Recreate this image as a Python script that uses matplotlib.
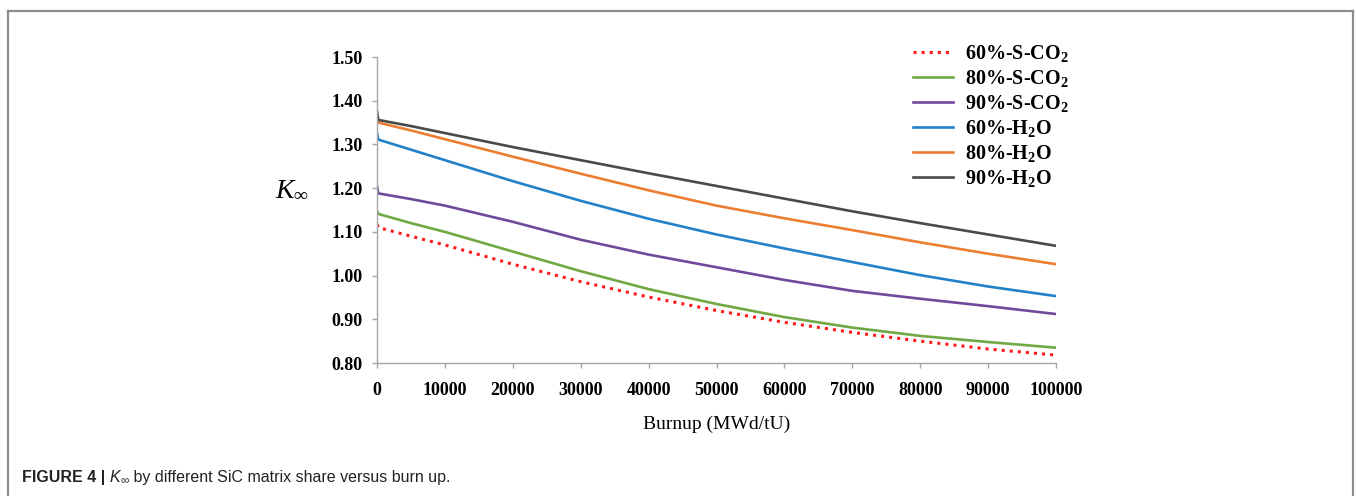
import numpy as np
import matplotlib.pyplot as plt
from matplotlib.lines import Line2D

plt.rcParams["mathtext.fontset"] = "custom"
plt.rcParams["mathtext.rm"] = "Liberation Serif:bold"
plt.rcParams["mathtext.it"] = "Liberation Serif:italic"
plt.rcParams["mathtext.bf"] = "Liberation Serif:bold"

# burnup points (MWd/tU)
burnup = [0, 200, 5000, 10000, 20000, 30000, 40000, 50000,
          60000, 70000, 80000, 90000, 100000]

k_60_sco2 = [1.117, 1.110, 1.090, 1.070, 1.026, 0.986, 0.951, 0.920,
             0.893, 0.870, 0.850, 0.832, 0.818]
k_80_sco2 = [1.148, 1.141, 1.120, 1.100, 1.055, 1.010, 0.969, 0.935,
             0.905, 0.881, 0.862, 0.848, 0.835]
k_90_sco2 = [1.205, 1.188, 1.175, 1.160, 1.123, 1.082, 1.048, 1.019,
             0.990, 0.965, 0.947, 0.930, 0.912]
k_60_h2o = [1.326, 1.311, 1.288, 1.264, 1.216, 1.171, 1.130, 1.094,
            1.062, 1.031, 1.001, 0.975, 0.953]
k_80_h2o = [1.356, 1.350, 1.332, 1.312, 1.272, 1.233, 1.195, 1.160,
            1.131, 1.104, 1.076, 1.050, 1.026]
k_90_h2o = [1.376, 1.356, 1.342, 1.326, 1.294, 1.264, 1.234, 1.205,
            1.176, 1.147, 1.120, 1.094, 1.068]

series = [
    ("60%-S-CO$_{2}$", k_60_sco2, "#ff1a1a", ":"),
    ("80%-S-CO$_{2}$", k_80_sco2, "#71a843", "-"),
    ("90%-S-CO$_{2}$", k_90_sco2, "#6f4a9a", "-"),
    ("60%-H$_{2}$O", k_60_h2o, "#2381c8", "-"),
    ("80%-H$_{2}$O", k_80_h2o, "#ed7d31", "-"),
    ("90%-H$_{2}$O", k_90_h2o, "#4a4a4a", "-"),
]

fig = plt.figure(figsize=(13.56, 4.96), dpi=100)
ax = fig.add_axes([377 / 1356, 1 - 363 / 496, (1056 - 377) / 1356, (363 - 57) / 496])

for label, vals, color, ls in series:
    lw = 2.2 if ls == ":" else 1.9
    ax.plot(burnup, vals, color=color, linestyle=ls, linewidth=lw, label=label)

ax.set_xlim(0, 100000)
ax.set_ylim(0.8, 1.5)
ax.set_xticks(np.arange(0, 100001, 10000))
ax.set_yticks(np.arange(0.8, 1.501, 0.1))
ax.set_yticklabels([f"{v:.2f}" for v in np.arange(0.8, 1.501, 0.1)])

for side in ["top", "right"]:
    ax.spines[side].set_visible(False)
for side in ["left", "bottom"]:
    ax.spines[side].set_color("#a6a6a6")
    ax.spines[side].set_linewidth(1.0)

ax.tick_params(axis="both", direction="out", length=3.6, color="#a6a6a6", width=1.0)
ax.tick_params(axis="x", pad=10)
ax.tick_params(axis="y", pad=7)
for t in ax.get_xticklabels() + ax.get_yticklabels():
    t.set_fontfamily("Liberation Serif")
    t.set_fontweight("bold")
    t.set_fontsize(13)

ax.set_xlabel("Burnup (MWd/tU)", fontfamily="Liberation Serif", fontsize=14, labelpad=12)
fig.text(292 / 1356, 1 - 188 / 496, r"$K_{\infty}$", fontsize=20,
         ha="center", va="center")

leg = ax.legend(loc="upper left", bbox_to_anchor=(913 / 1356, 1 - 43 / 496),
                bbox_transform=fig.transFigure, frameon=False,
                prop={"family": "Liberation Serif", "weight": "bold", "size": 14.5},
                handlelength=2.0, handletextpad=0.6, labelspacing=0.2,
                borderpad=0, borderaxespad=0)

# frame around the figure panel
frame_kw = dict(transform=fig.transFigure, color="#8c8c8c", linewidth=1.6)
fig.add_artist(Line2D([8 / 1356, 1353 / 1356], [1 - 10.5 / 496] * 2, **frame_kw))
fig.add_artist(Line2D([8 / 1356] * 2, [0, 1 - 10.5 / 496], **frame_kw))
fig.add_artist(Line2D([1353 / 1356] * 2, [0, 1 - 10.5 / 496], **frame_kw))

# caption, built piece by piece
fig.canvas.draw()
renderer = fig.canvas.get_renderer()
cap_y = 1 - 482 / 496
pieces = [
    ("FIGURE 4 | ", dict(fontweight="bold"), 0),
    ("K", dict(fontstyle="italic"), 0),
    ("\u221e", dict(fontsize=8.5), -2.5),
    (" by different SiC matrix share versus burn up.", dict(), 0),
]
x_px = 22
for txt, kw, dy in pieces:
    opts = dict(fontfamily="Liberation Sans", fontsize=11.5, va="baseline", color="#222222")
    opts.update(kw)
    t = fig.text(x_px / 1356, cap_y + dy / 496, txt, **opts)
    bb = t.get_window_extent(renderer)
    x_px += bb.width

fig.savefig("out.png", dpi=100)
